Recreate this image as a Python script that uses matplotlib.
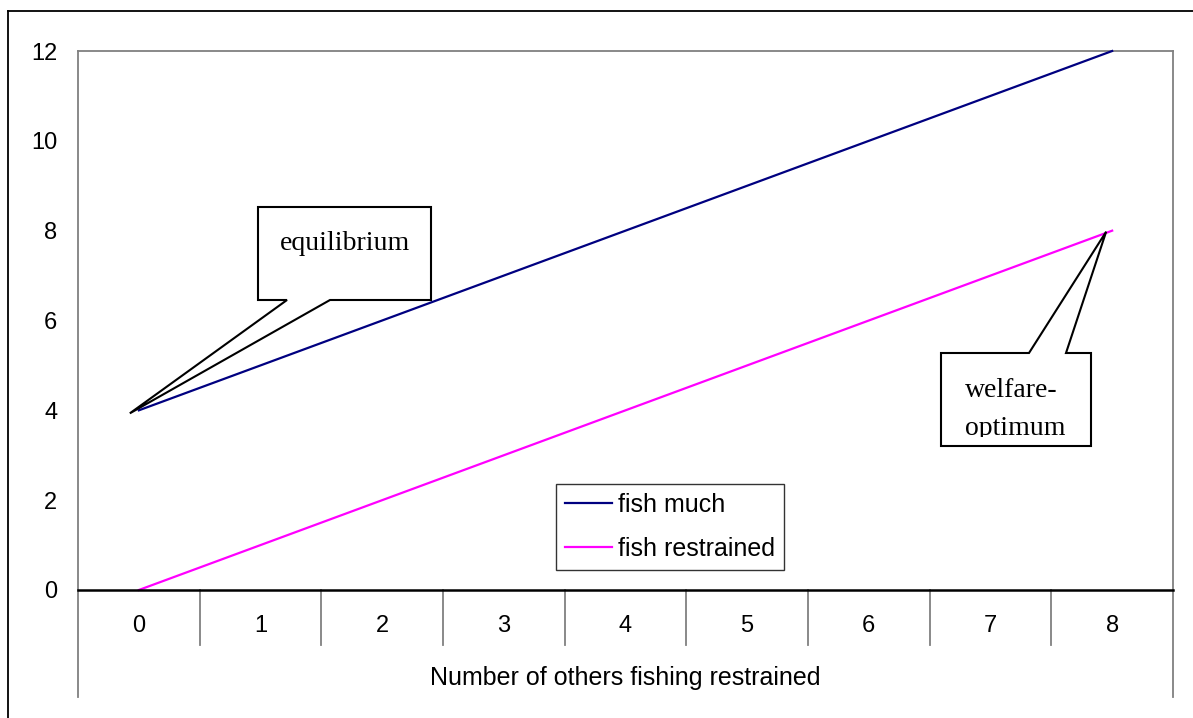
import matplotlib
matplotlib.use("Agg")
import matplotlib.pyplot as plt
import matplotlib.transforms as mtransforms
from matplotlib.patches import Polygon, Rectangle
from matplotlib.lines import Line2D
import numpy as np

# ---- data ----
categories = [0, 1, 2, 3, 4, 5, 6, 7, 8]
category_labels = ["0", "1", "2", "3", "4", "5", "6", "7", "8"]
fish_much = [4, 5, 6, 7, 8, 9, 10, 11, 12]
fish_restrained = [0, 1, 2, 3, 4, 5, 6, 7, 8]
series_names = ["fish much", "fish restrained"]
y_ticks = [0, 2, 4, 6, 8, 10, 12]
x_title = "Number of others fishing restrained"
callout_eq = "equilibrium"
callout_wo = ["welfare-", "optimum"]

plt.rcParams["font.family"] = ["Liberation Sans", "DejaVu Sans"]
SERIF = ["Liberation Serif", "DejaVu Serif"]

W, H = 1193, 718
fig = plt.figure(figsize=(W / 100, H / 100), dpi=100)


def fx(x):
    return x / W


def fy(y):
    return 1 - y / H


L, R, T, B = 78, 1173, 51, 590
ax = fig.add_axes([fx(L), fy(B), (R - L) / W, (B - T) / H])

ax.plot(categories, fish_much, color="#000080", lw=1.6, label=series_names[0],
        clip_on=False, zorder=3)
ax.plot(categories, fish_restrained, color="#FF00FF", lw=1.6, label=series_names[1],
        clip_on=False, zorder=3)

ax.set_xlim(-0.5, len(categories) - 0.5)
ax.set_ylim(0, 12)
ax.set_yticks(y_ticks)
ax.set_yticklabels([str(v) for v in y_ticks])
ax.set_xticks(categories)
ax.set_xticklabels(category_labels)
ax.tick_params(axis="y", length=0, pad=15, labelsize=17)
ax.tick_params(axis="x", length=0, pad=18, labelsize=17)

for s in ["left", "top", "right"]:
    ax.spines[s].set_color("#808080")
    ax.spines[s].set_linewidth(1.3)
ax.spines["bottom"].set_color("black")
ax.spines["bottom"].set_linewidth(1.8)
ax.spines["bottom"].set_zorder(4)

# category separators below the axis
trans = mtransforms.blended_transform_factory(ax.transData, ax.transAxes)
inner = -(645 - B) / (B - T)
outer = -(697 - B) / (B - T)
bounds = np.arange(-0.5, len(categories), 1.0)
for i, b in enumerate(bounds):
    d = outer if (i == 0 or i == len(bounds) - 1) else inner
    ax.add_line(Line2D([b, b], [0, d], transform=trans, color="#808080",
                       lw=1.3, clip_on=False))

# x title
fig.text(fx((L + R) / 2), fy(678), x_title, ha="center", va="center", fontsize=18)

# legend
leg = ax.legend(loc="upper left", bbox_to_anchor=(fx(556), fy(484)),
                bbox_transform=fig.transFigure, frameon=True, fancybox=False,
                edgecolor="black", fontsize=18, handlelength=1.88,
                handletextpad=0.24, borderpad=0.36, labelspacing=0.8,
                borderaxespad=0)
leg.get_frame().set_linewidth(1.0)
leg.get_frame().set_facecolor("white")


# callouts
def data_px(x, y):
    dx, dy = ax.transData.transform((x, y))
    return dx, H - dy


tx, ty = data_px(categories[0], fish_much[0])
tip_eq = (tx - 9, ty + 3)
eq_pts = [(258, 207), (431, 207), (431, 300), (330, 300), tip_eq, (287, 300), (258, 300)]
ax.add_artist(Polygon([(fx(x), fy(y)) for x, y in eq_pts], closed=True,
                      transform=fig.transFigure, facecolor="white",
                      edgecolor="black", lw=1.5, clip_on=False, zorder=5))
fig.text(fx(345), fy(243), callout_eq, ha="center", va="center",
         fontsize=20, family=SERIF)

tx, ty = data_px(categories[-1], fish_restrained[-1])
tip_wo = (tx - 6, ty + 1)
wo_pts = [(941, 353), (1029, 353), tip_wo, (1066, 353), (1091, 353), (1091, 446), (941, 446)]
ax.add_artist(Polygon([(fx(x), fy(y)) for x, y in wo_pts], closed=True,
                      transform=fig.transFigure, facecolor="white",
                      edgecolor="black", lw=1.5, clip_on=False, zorder=5))
clip = Rectangle((fx(941), fy(437)), (1091 - 941) / W, (437 - 353) / H,
                 transform=fig.transFigure, visible=False)
fig.add_artist(clip)
t1 = fig.text(fx(965), fy(397), callout_wo[0], ha="left", va="baseline",
              fontsize=20, family=SERIF)
t2 = fig.text(fx(965), fy(435), callout_wo[1], ha="left", va="baseline",
              fontsize=20, family=SERIF)
t2.set_clip_path(clip)

# outer chart border (left and top visible)
fig.add_artist(Line2D([fx(8), fx(8)], [fy(11), fy(H + 5)], transform=fig.transFigure,
                      color="black", lw=1.3))
fig.add_artist(Line2D([fx(8), fx(W + 5)], [fy(11), fy(11)], transform=fig.transFigure,
                      color="black", lw=1.3))

fig.savefig("out.png", dpi=100, facecolor="white")
